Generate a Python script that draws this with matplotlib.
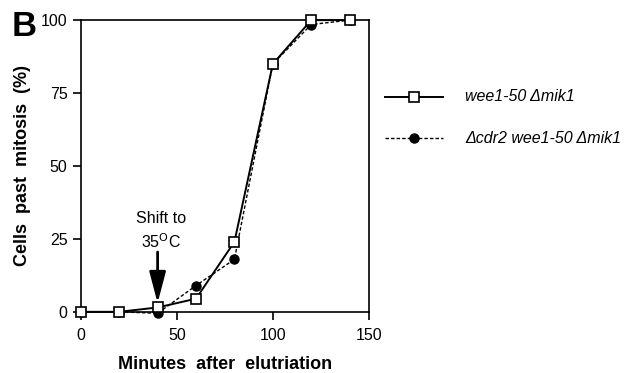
import matplotlib.pyplot as plt

plt.rcParams['font.family'] = ['Liberation Sans', 'DejaVu Sans']

minutes = [0, 20, 40, 60, 80, 100, 120, 140]
wee1_mik1 = [0, 0, 1.5, 4.5, 24, 85, 100, 100]
cdr2_wee1_mik1 = [0, 0, -0.5, 9, 18, 85, 98.5, 100]

label_a = "wee1-50 \u0394mik1"
label_b = "\u0394cdr2 wee1-50 \u0394mik1"

fig = plt.figure(figsize=(6.36, 3.73), dpi=100)
ax = fig.add_axes([0.127, 0.164, 0.453, 0.782])

ax.plot(minutes, cdr2_wee1_mik1, color='black', lw=1.0, ls=(0, (2.5, 1.5)),
        marker='o', ms=6.5, mfc='black', mec='black', clip_on=False, zorder=3)
ax.plot(minutes, wee1_mik1, color='black', lw=1.4, ls='-',
        marker='s', ms=7.5, mfc='white', mec='black', mew=1.2, clip_on=False, zorder=4)

ax.set_xlim(0, 150)
ax.set_ylim(0, 100)
ax.set_xticks([0, 50, 100, 150])
ax.set_yticks([0, 25, 50, 75, 100])
ax.tick_params(direction='out', length=6, width=1.2, labelsize=11.5)
ax.tick_params(axis='x', pad=6)
for s in ax.spines.values():
    s.set_linewidth(1.2)

ax.set_xlabel('Minutes  after  elutriation', fontsize=13, fontweight='bold', labelpad=9)
ax.set_ylabel('Cells  past  mitosis  (%)', fontsize=13, fontweight='bold', labelpad=7)

# shift annotation
ax.annotate('', xy=(40, 3.0), xytext=(40, 20.5),
            arrowprops=dict(arrowstyle='-|>,head_length=1.9,head_width=0.5',
                            color='black', lw=2.0, shrinkA=0, shrinkB=0))
ax.text(42, 32, 'Shift to', ha='center', va='center', fontsize=11.5)
ax.text(42, 24, r'35$^{\mathrm{O}}$C', ha='center', va='center', fontsize=11.5)

fig.text(0.018, 0.93, 'B', fontsize=25, fontweight='bold', va='center', ha='left')

# legend
lx0, lx1 = 0.605, 0.697
for y, data_style, lab in [(0.74, 'a', label_a), (0.63, 'b', label_b)]:
    if data_style == 'a':
        fig.lines.append(plt.Line2D([lx0, lx1], [y, y], transform=fig.transFigure,
                                    color='black', lw=1.4))
        fig.lines.append(plt.Line2D([(lx0 + lx1) / 2], [y], transform=fig.transFigure,
                                    marker='s', ms=7, mfc='white', mec='black', mew=1.2))
    else:
        fig.lines.append(plt.Line2D([lx0, lx1], [y, y], transform=fig.transFigure,
                                    color='black', lw=1.0, ls=(0, (2.5, 1.5))))
        fig.lines.append(plt.Line2D([(lx0 + lx1) / 2], [y], transform=fig.transFigure,
                                    marker='o', ms=6.5, mfc='black', mec='black'))
    fig.text(0.731, y, lab, fontsize=11.5, style='italic', va='center', ha='left')

fig.savefig('out.png', dpi=100)
